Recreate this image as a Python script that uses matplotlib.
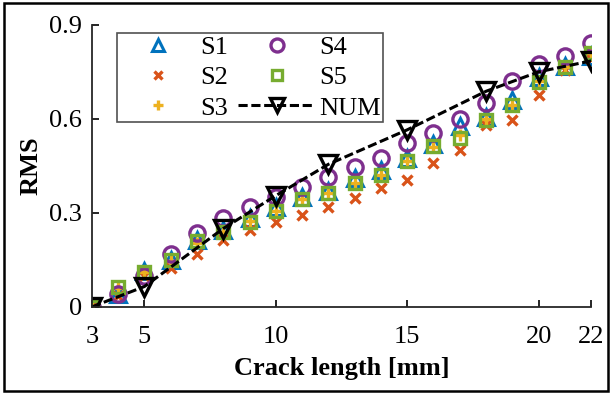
import matplotlib.pyplot as plt
from matplotlib.patches import Rectangle

plt.rcParams['font.family'] = ['Liberation Serif', 'DejaVu Serif']

crack = [3, 4, 5, 6, 7, 8, 9, 10, 11, 12, 13, 14, 15, 16, 17, 18, 19, 20, 21, 22]
s1 = [0, 0.04, 0.115, 0.15, 0.215, 0.245, 0.283, 0.32, 0.352, 0.37, 0.411, 0.438,
      0.475, 0.52, 0.578, 0.607, 0.66, 0.732, 0.77, 0.80]
s2 = [0, 0.035, 0.10, 0.124, 0.17, 0.214, 0.246, 0.27, 0.294, 0.32, 0.347, 0.379,
      0.406, 0.459, 0.50, 0.58, 0.595, 0.677, 0.755, 0.79]
s3 = [0, 0.06, 0.11, 0.145, 0.205, 0.24, 0.275, 0.305, 0.345, 0.365, 0.395, 0.42,
      0.465, 0.51, 0.55, 0.60, 0.645, 0.72, 0.765, 0.81]
s4 = [0, 0.04, 0.10, 0.17, 0.235, 0.283, 0.32, 0.35, 0.384, 0.416, 0.448, 0.475,
      0.523, 0.555, 0.60, 0.65, 0.721, 0.776, 0.80, 0.842]
s5 = [0, 0.062, 0.113, 0.15, 0.209, 0.24, 0.27, 0.305, 0.345, 0.363, 0.395, 0.42,
      0.464, 0.512, 0.54, 0.595, 0.644, 0.716, 0.765, 0.81]
num_x = [3, 5, 8, 10, 12, 15, 18, 20, 22]
num_y = [0, 0.065, 0.25, 0.355, 0.455, 0.565, 0.688, 0.75, 0.785]

xticks = [3, 5, 10, 15, 20, 22]
yticks = [0, 0.3, 0.6, 0.9]
ytick_labels = ['0', '0.3', '0.6', '0.9']

fig = plt.figure(figsize=(6.12, 3.94), dpi=100)
ax = fig.add_axes([0.150, 0.221, 0.816, 0.716])

ax.plot(crack, s1, '^', ms=11, mfc='none', mec='#0072BD', mew=2.2, ls='none', label='S1')
ax.plot(crack, s2, 'x', ms=7, mec='#D95319', mew=2.4, ls='none', label='S2')
ax.plot(crack, s3, '+', ms=8, mec='#EDB120', mew=2.4, ls='none', label='S3')
ax.plot(crack, s4, 'o', ms=11, mfc='none', mec='#7E2F8E', mew=2.4, ls='none', label='S4')
ax.plot(crack, s5, 's', ms=8, mfc='none', mec='#77AC30', mew=2.4, ls='none', label='S5')
ax.plot(num_x, num_y, color='k', lw=2.2, ls=(0, (3, 1.2)), marker='v', ms=12.5,
        mfc='none', mec='k', mew=2.4, label='NUM')

ax.set_xlim(3, 22)
ax.set_ylim(0, 0.9)
ax.set_xticks(xticks)
ax.set_xticklabels([str(t) for t in xticks])
ax.set_yticks(yticks)
ax.set_yticklabels(ytick_labels)
ax.tick_params(direction='in', length=5, width=1.2, labelsize=19)
ax.tick_params(axis='x', pad=14)
ax.tick_params(axis='y', pad=7)
ax.spines['top'].set_visible(False)
ax.spines['right'].set_visible(False)
for s in ['left', 'bottom']:
    ax.spines[s].set_linewidth(1.3)
    ax.spines[s].set_color('#262626')

ax.set_xlabel('Crack length [mm]', fontsize=19, fontweight='bold', labelpad=6)
ax.set_ylabel('RMS', fontsize=19, fontweight='bold', labelpad=5)

leg = ax.legend(ncol=2, loc='upper left', bbox_to_anchor=(0.05, 0.97), fontsize=19,
                frameon=True, fancybox=False, edgecolor='#262626', handlelength=2.9,
                columnspacing=0.4, handletextpad=0.15, borderpad=0.1, labelspacing=0.25,
                markerscale=0.85, borderaxespad=0.0)
leg.get_frame().set_linewidth(1.2)

fig.patches.append(Rectangle((0.006, 0.008), 0.988, 0.984, transform=fig.transFigure,
                             fill=False, edgecolor='k', lw=1.8))

fig.savefig('out.png', dpi=100)
